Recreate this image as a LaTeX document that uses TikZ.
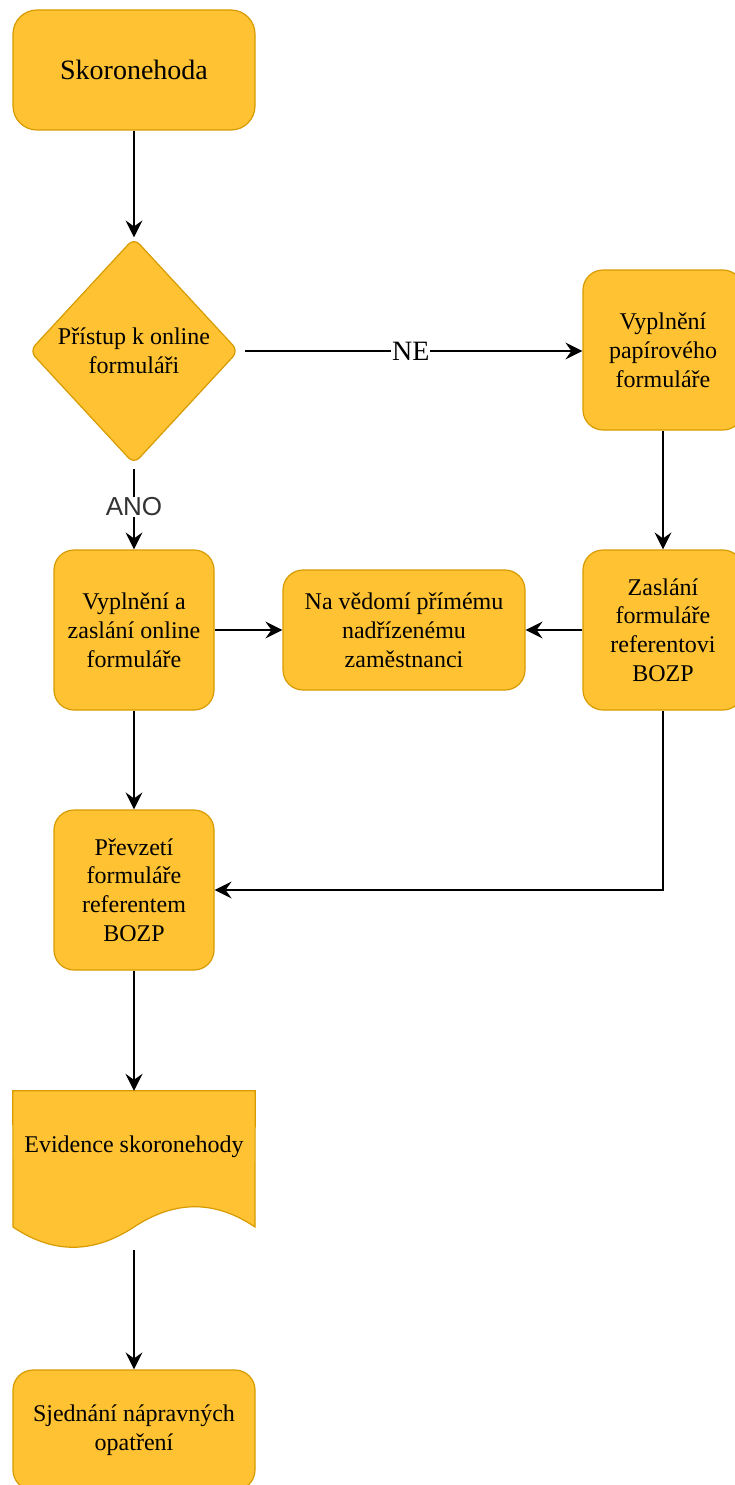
\documentclass[tikz,border=0pt]{standalone}
\usepackage{fontspec}
\setmainfont{Liberation Serif}
\newfontfamily\edgesans{Liberation Sans}
\usetikzlibrary{arrows.meta,shapes.geometric}

\definecolor{boxfill}{RGB}{255,194,51}
\definecolor{boxline}{RGB}{215,155,0}
\definecolor{edgegray}{RGB}{51,51,51}

\begin{document}
\begin{tikzpicture}[x=1pt,y=-1pt,
    box/.style={draw=boxline,fill=boxfill,line width=1.2pt,rounded corners=20pt,
      align=center,font=\fontsize{24}{28.8}\selectfont,inner sep=4pt},
    decision/.style={box,shape=diamond,rounded corners=8pt,inner sep=0pt,
      minimum width=209pt,minimum height=226pt},
    flow/.style={draw=black,line width=1.5pt,-{Stealth[length=17pt,width=17pt,inset=6pt]}},
    edgelabel/.style={fill=white,inner sep=1pt}
  ]
  \useasboundingbox (0,0) rectangle (735,1485);

  \node[box,minimum width=242pt,minimum height=120pt,rounded corners=24pt,
    font=\fontsize{28}{33}\selectfont] (start) at (134,70) {Skoronehoda};
  \node[decision] (access) at (134,351) {Přístup k online\\formuláři};
  \node[box,minimum width=160pt,minimum height=160pt] (paper form) at (663,350)
    {Vyplnění\\papírového\\formuláře};
  \node[box,minimum width=160pt,minimum height=160pt] (send paper) at (663,630)
    {Zaslání\\formuláře\\referentovi\\BOZP};
  \node[box,minimum width=160pt,minimum height=160pt] (online form) at (134,630)
    {Vyplnění a\\zaslání online\\formuláře};
  \node[box,minimum width=242pt,minimum height=120pt] (supervisor) at (404,630)
    {Na vědomí přímému\\nadřízenému\\zaměstnanci};
  \node[box,minimum width=160pt,minimum height=160pt] (takeover) at (134,890)
    {Převzetí\\formuláře\\referentem\\BOZP};

  % document shape with wavy bottom
  \node[minimum width=242pt,minimum height=159pt,inner sep=0pt] (record) at (134,1170.5) {};
  \filldraw[draw=boxline,fill=boxfill,line width=1.2pt]
    (record.north west) -- (record.north east) -- (255,1227)
    .. controls +(-40,-27) and +(41,-27) .. (134,1227)
    .. controls +(-41,27) and +(40,27) .. (13,1227) -- cycle;
  \node[font=\fontsize{24}{28.8}\selectfont] (record text) at (134,1147) {Evidence skoronehody};

  \node[box,minimum width=242pt,minimum height=120pt] (measures) at (134,1430)
    {Sjednání nápravných\\opatření};

  \draw[flow] (start) -- (access);
  \draw[flow,shorten <=6pt] (access) -- node[edgelabel,font=\fontsize{28}{33}\selectfont] {NE}
    (access -| paper form.west);
  \draw[flow,shorten <=4pt] (access) -- node[edgelabel,text=edgegray,font=\edgesans\fontsize{26}{30}\selectfont] {ANO} (online form);
  \draw[flow] (paper form) -- (send paper);
  \draw[flow] (online form) -- (supervisor);
  \draw[flow] (send paper) -- (supervisor);
  \draw[flow] (online form) -- (takeover);
  \draw[flow] (send paper) |- (takeover);
  \draw[flow] (takeover) -- (record);
  \draw[flow] (record) -- (measures);
\end{tikzpicture}
\end{document}
